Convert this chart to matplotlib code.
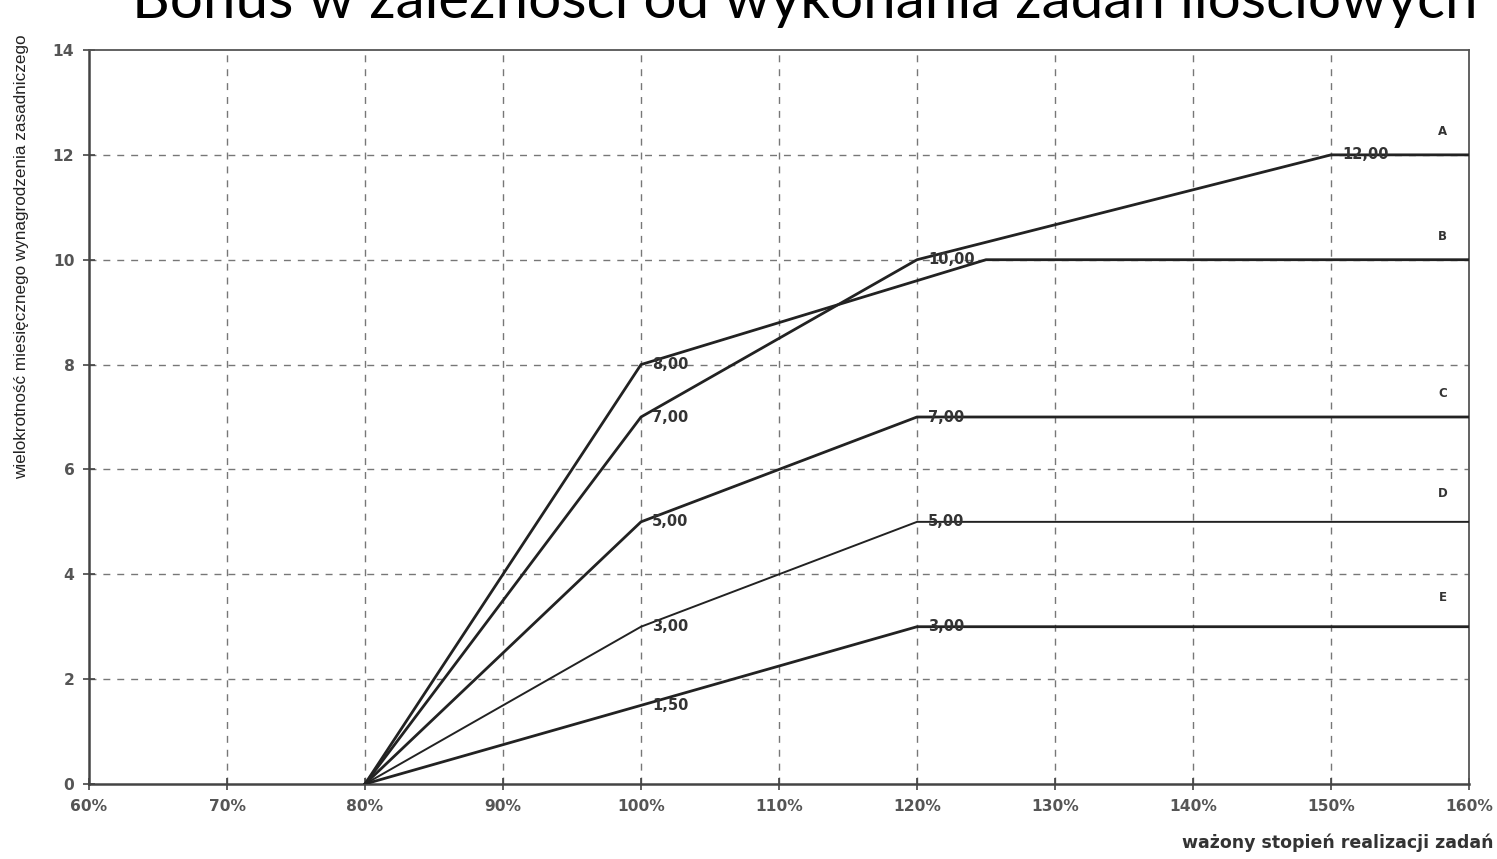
import matplotlib
matplotlib.use("Agg")
import matplotlib.pyplot as plt

# Data
x_ticks = [60, 70, 80, 90, 100, 110, 120, 130, 140, 150, 160]
x_tick_labels = [f"{v}%" for v in x_ticks]
y_ticks = [0, 2, 4, 6, 8, 10, 12, 14]

series_names = ["A", "B", "C", "D", "E"]
series_x = {
    "A": [80, 100, 120, 150, 160],
    "B": [80, 100, 125, 160],
    "C": [80, 100, 120, 160],
    "D": [80, 100, 120, 160],
    "E": [80, 100, 120, 160],
}
series_y = {
    "A": [0, 7, 10, 12, 12],
    "B": [0, 8, 10, 10],
    "C": [0, 5, 7, 7],
    "D": [0, 3, 5, 5],
    "E": [0, 1.5, 3, 3],
}
# point annotations (x, y, text)
point_labels = [
    (100, 8, "8,00"), (100, 7, "7,00"), (100, 5, "5,00"), (100, 3, "3,00"), (100, 1.5, "1,50"),
    (120, 10, "10,00"), (120, 7, "7,00"), (120, 5, "5,00"), (120, 3, "3,00"),
    (150, 12, "12,00"),
]
# series letter positions
letter_pos = {"A": (158.1, 12.45), "B": (158.1, 10.45), "C": (158.1, 7.45),
              "D": (158.1, 5.55), "E": (158.1, 3.55)}

fig = plt.figure(figsize=(14.97, 8.59), dpi=100)
ax = fig.add_axes([89/1497, 1-784/859, (1469-89)/1497, (784-50)/859])

ax.set_xlim(60, 160)
ax.set_ylim(0, 14)

for yv in y_ticks[1:-1]:
    ax.axhline(yv, color="#777777", lw=1.0, ls=(0, (5, 5)), zorder=1)
for xv in x_ticks[1:-1]:
    ax.axvline(xv, color="#777777", lw=1.0, ls=(0, (5, 5)), zorder=1)

for name in series_names:
    lw = 1.4 if name == "D" else 2.0
    ax.plot(series_x[name], series_y[name], color="#222222", lw=lw, zorder=3,
            solid_joinstyle="miter")

for px, py, t in point_labels:
    ax.annotate(t, (px, py), xytext=(8, 0), textcoords="offset points",
                fontsize=10.5, fontweight="bold", color="#333333", va="center", ha="left",
                zorder=4)

for name in series_names:
    lx, ly = letter_pos[name]
    ax.text(lx, ly, name, fontsize=8.5, fontweight="bold", color="#333333",
            ha="center", va="center")

ax.set_xticks(x_ticks)
ax.set_xticklabels(x_tick_labels)
ax.set_yticks(y_ticks)
ax.tick_params(direction="inout", length=9, width=1.2, color="#444444",
               labelsize=11.2, labelcolor="#555555", pad=6)
for lab in ax.get_xticklabels() + ax.get_yticklabels():
    lab.set_fontweight("bold")

for side in ["left", "bottom"]:
    ax.spines[side].set_linewidth(1.8)
    ax.spines[side].set_color("#444444")
for side in ["top", "right"]:
    ax.spines[side].set_linewidth(1.3)
    ax.spines[side].set_color("#555555")

fig.text(22/1497, 1-257/859, "wielokrotność miesięcznego wynagrodzenia zasadniczego",
         rotation=90, fontsize=12.3, color="#222222", ha="center", va="center",
         fontfamily="Liberation Sans")
fig.text(1493/1497, 1-843/859, "ważony stopień realizacji zadań", fontsize=12.5,
         fontweight="bold", color="#333333", ha="right", va="center")
fig.text(805/1497, 1-18/859, "Bonus w zależności od wykonania zadań ilościowych",
         fontsize=42, fontfamily="Lato", color="black", ha="center", va="baseline")

fig.savefig("out.png", dpi=100)
